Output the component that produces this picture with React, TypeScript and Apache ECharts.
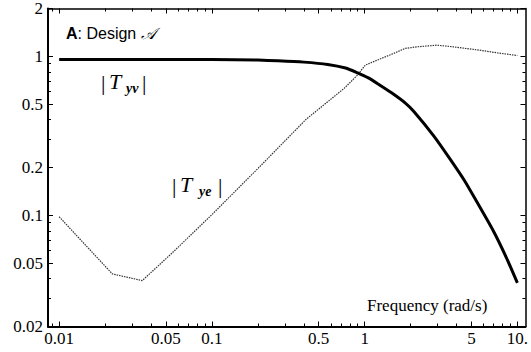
import React, { useEffect, useRef } from "react";
import * as echarts from "echarts";

// Axis ranges (data space)
const X_MIN = 0.00845;
const X_MAX = 11.3;
const Y_MIN = 0.02;
const Y_MAX = 2;

// Tick values and labels
const xTickValues = [0.01, 0.05, 0.1, 0.5, 1, 5, 10];
const xTickLabels = ["0.01", "0.05", "0.1", "0.5", "1", "5", "10."];
const xMinorTicks = [0.009, 0.02, 0.03, 0.04, 0.06, 0.07, 0.08, 0.09, 0.2, 0.3, 0.4, 0.6, 0.7, 0.8, 0.9, 2, 3, 4, 6, 7, 8, 9];
const yTickValues = [0.02, 0.05, 0.1, 0.2, 0.5, 1, 2];
const yTickLabels = ["0.02", "0.05", "0.1", "0.2", "0.5", "1", "2"];
const yMinorTicks = [0.03, 0.04, 0.06, 0.07, 0.08, 0.09, 0.3, 0.4, 0.6, 0.7, 0.8, 0.9];

// |T_yv| (thick solid)
const tyvFreq = [0.01, 0.05, 0.1, 0.2, 0.27, 0.4, 0.573, 0.75, 0.898, 1.05, 1.21, 1.5, 1.84, 2.1, 2.84, 3.6, 4.51, 5.39, 6.95, 8.45, 10];
const tyvMag = [0.957, 0.957, 0.955, 0.947, 0.938, 0.92, 0.89, 0.845, 0.788, 0.735, 0.676, 0.59, 0.51, 0.45, 0.315, 0.228, 0.165, 0.123, 0.08, 0.0545, 0.0376];

// |T_ye| (thin dotted)
const tyeFreq = [0.01, 0.0223, 0.035, 0.0547, 0.0995, 0.201, 0.414, 0.573, 0.734, 0.898, 1.01, 1.21, 1.55, 1.84, 2.2, 2.97, 3.81, 5.64, 7.5, 10];
const tyeMag = [0.098, 0.0428, 0.0389, 0.0578, 0.1006, 0.198, 0.402, 0.518, 0.629, 0.762, 0.881, 0.947, 1.043, 1.122, 1.148, 1.176, 1.148, 1.094, 1.05, 1.012];

const L = Math.log10;

function labelFor(values: number[], labels: string[]) {
  return (v: number) => {
    let best = 0;
    let bd = Infinity;
    values.forEach((t, i) => {
      const d = Math.abs(L(t) - v);
      if (d < bd) {
        bd = d;
        best = i;
      }
    });
    return labels[best];
  };
}

const SERIF = "Liberation Serif";
const SANS = "Liberation Sans";

export default function App() {
  const ref = useRef<HTMLDivElement>(null);
  useEffect(() => {
    if (!ref.current) return;
    const chart = echarts.init(ref.current, undefined, { renderer: "svg" });
    const axisLine = (w: number) => ({ show: true, onZero: false, lineStyle: { color: "#000", width: w } });
    const noLine = { show: false, onZero: false };
    const tick = (len: number, vals: number[]) => ({
      show: true,
      inside: true,
      length: len,
      customValues: vals.map(L),
      lineStyle: { color: "#000", width: 1 },
    });
    const baseX = { type: "value" as const, min: L(X_MIN), max: L(X_MAX), splitLine: { show: false } };
    const baseY = { type: "value" as const, min: L(Y_MIN), max: L(Y_MAX), splitLine: { show: false } };
    const text = (x: number, y: number, t: string, size: number, italic = false, bold = false) => ({
      type: "text",
      x,
      y,
      style: {
        text: t,
        fontFamily: SERIF,
        fontSize: size,
        fontStyle: italic ? "italic" : "normal",
        fontWeight: bold ? "bold" : "normal",
        fill: "#000",
        textVerticalAlign: "middle",
      },
    });
    const option: any = {
      animation: false,
      backgroundColor: "#fff",
      grid: { left: 48, top: 8, width: 482, height: 318.5, containLabel: false },
      xAxis: [
        {
          ...baseX,
          position: "bottom",
          axisLine: axisLine(2),
          axisTick: tick(5, xTickValues),
          axisLabel: {
            show: true,
            customValues: xTickValues.map(L),
            formatter: labelFor(xTickValues, xTickLabels),
            color: "#000",
            fontFamily: SERIF,
            fontSize: 17,
            margin: 3,
          },
        },
        { ...baseX, position: "bottom", axisLine: noLine, axisTick: tick(3, xMinorTicks), axisLabel: { show: false } },
        { ...baseX, position: "top", axisLine: axisLine(1.5), axisTick: tick(5, xTickValues), axisLabel: { show: false } },
        { ...baseX, position: "top", axisLine: noLine, axisTick: tick(3, xMinorTicks), axisLabel: { show: false } },
      ],
      yAxis: [
        {
          ...baseY,
          position: "left",
          axisLine: axisLine(2),
          axisTick: tick(5, yTickValues),
          axisLabel: {
            show: true,
            customValues: yTickValues.map(L),
            formatter: labelFor(yTickValues, yTickLabels),
            color: "#000",
            fontFamily: SERIF,
            fontSize: 17,
            margin: 5,
          },
        },
        { ...baseY, position: "left", axisLine: noLine, axisTick: tick(3, yMinorTicks), axisLabel: { show: false } },
        { ...baseY, position: "right", axisLine: axisLine(1.5), axisTick: tick(5, yTickValues), axisLabel: { show: false } },
        { ...baseY, position: "right", axisLine: noLine, axisTick: tick(3, yMinorTicks), axisLabel: { show: false } },
      ],
      series: [
        {
          name: "|Tye|",
          type: "line",
          xAxisIndex: 0,
          yAxisIndex: 0,
          showSymbol: false,
          smooth: false,
          data: tyeFreq.map((f, i) => [L(f), L(tyeMag[i])]),
          lineStyle: { color: "#333", width: 1.2, type: [1.5, 1] },
          z: 2,
        },
        {
          name: "|Tyv|",
          type: "line",
          xAxisIndex: 0,
          yAxisIndex: 0,
          showSymbol: false,
          smooth: 0.2,
          data: tyvFreq.map((f, i) => [L(f), L(tyvMag[i])]),
          lineStyle: { color: "#000", width: 3 },
          z: 3,
        },
      ],
      graphic: [
        {
          type: "text",
          left: 66,
          top: 25,
          style: {
            text: "{b|A}{n|: Design }{s|𝒜}",
            rich: {
              b: { fontFamily: SANS, fontWeight: "bold", fontSize: 16, fill: "#000" },
              n: { fontFamily: SANS, fontSize: 16, fill: "#000" },
              s: { fontFamily: "DejaVu Serif", fontStyle: "italic", fontSize: 16, fill: "#000" },
            },
          },
        },
        // |T_yv|
        text(101, 82, "|", 22),
        text(109, 81, "T", 22, true),
        text(126, 88, "yv", 14, true, true),
        text(142, 82, "|", 22),
        // |T_ye|
        text(172, 185, "|", 22),
        text(180, 184, "T", 22, true),
        text(199, 191, "ye", 14, true, true),
        text(218, 185, "|", 22),
        // axis title
        text(367, 305, "Frequency (rad/s)", 17),
      ],
    };
    chart.setOption(option);
    return () => chart.dispose();
  }, []);
  return (
    <div
      ref={ref}
      style={{ position: "absolute", left: 0, top: 0, width: 531, height: 352, background: "#fff" }}
    />
  );
}
